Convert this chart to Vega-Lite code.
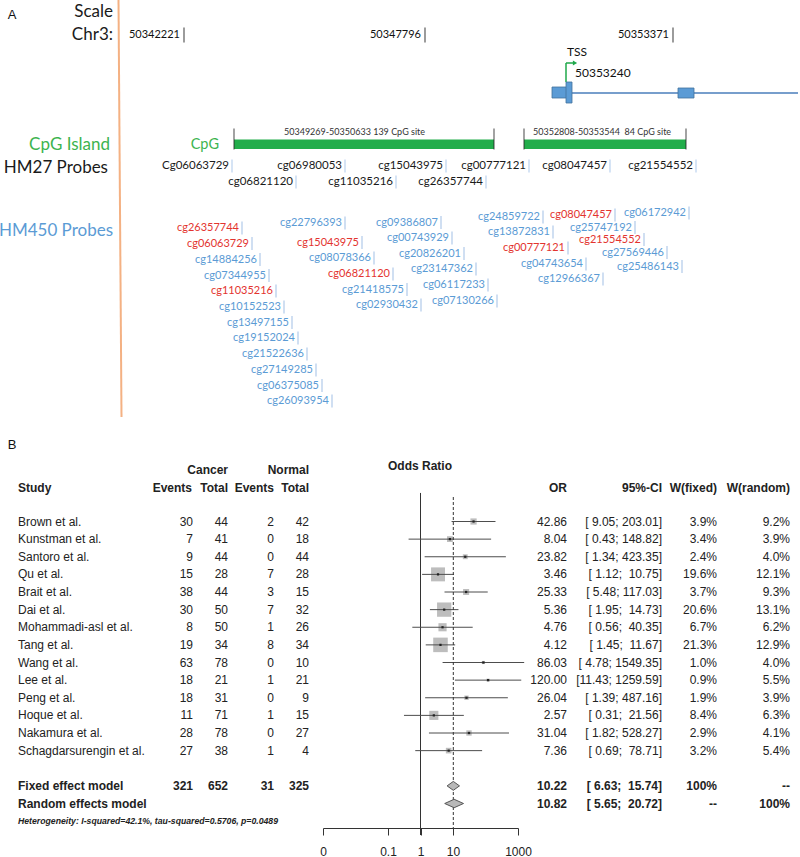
{
  "$schema": "https://vega.github.io/schema/vega-lite/v6.json",
  "width": 800,
  "height": 857,
  "autosize": {"type": "none"},
  "padding": 0,
  "background": "white",
  "config": {"view": {"stroke": null}},
  "datasets": {
    "trackLabels": [
      {"label": "Scale", "kind": "label", "pos": 113, "y": 12},
      {"label": "Chr3:", "kind": "label", "pos": 113, "y": 35},
      {"label": "CpG Island", "kind": "CpG", "pos": 110, "y": 145},
      {"label": "HM27 Probes", "kind": "label", "pos": 108, "y": 168},
      {"label": "HM450 Probes", "kind": "HM450", "pos": 113, "y": 231}
    ],
    "scaleTicks": [
      {"coord": "50342221", "pos": 184},
      {"coord": "50347796", "pos": 425},
      {"coord": "50353371", "pos": 673}
    ],
    "tss": [{"label": "TSS", "coord": "50353240", "pos": 566}],
    "gene": [{"feature": "gene body", "start": 552, "end": 798}],
    "exons": [
      {"part": "exon 1", "start": 552, "end": 567, "top": 87, "bottom": 98},
      {"part": "exon 1 (TSS)", "start": 566, "end": 572, "top": 82, "bottom": 103},
      {"part": "exon 2", "start": 678, "end": 694, "top": 88, "bottom": 98}
    ],
    "cpgIslands": [
      {"label": "50349269-50350633 139 CpG site", "start": 234, "end": 494, "label_pos": 284},
      {"label": "50352808-50353544\u00a0\u00a084 CpG site", "start": 524, "end": 686, "label_pos": 533}
    ],
    "hm27": [
      {"probe": "Cg06063729", "pos": 232, "y": 166},
      {"probe": "cg06980053", "pos": 345, "y": 166},
      {"probe": "cg15043975", "pos": 446, "y": 166},
      {"probe": "cg00777121", "pos": 529, "y": 166},
      {"probe": "cg08047457", "pos": 610, "y": 166},
      {"probe": "cg21554552", "pos": 696, "y": 166},
      {"probe": "cg06821120", "pos": 296, "y": 182},
      {"probe": "cg11035216", "pos": 396, "y": 182},
      {"probe": "cg26357744", "pos": 486, "y": 182}
    ],
    "hm450": [
      {"probe": "cg26357744", "kind": "HM27+HM450", "pos": 242, "y": 228},
      {"probe": "cg06063729", "kind": "HM27+HM450", "pos": 252, "y": 243.5},
      {"probe": "cg14884256", "kind": "HM450", "pos": 260, "y": 259.5},
      {"probe": "cg07344955", "kind": "HM450", "pos": 269, "y": 275.5},
      {"probe": "cg11035216", "kind": "HM27+HM450", "pos": 276, "y": 291},
      {"probe": "cg10152523", "kind": "HM450", "pos": 284, "y": 307},
      {"probe": "cg13497155", "kind": "HM450", "pos": 292, "y": 322.5},
      {"probe": "cg19152024", "kind": "HM450", "pos": 298, "y": 338},
      {"probe": "cg21522636", "kind": "HM450", "pos": 307, "y": 354},
      {"probe": "cg27149285", "kind": "HM450", "pos": 316, "y": 370},
      {"probe": "cg06375085", "kind": "HM450", "pos": 322, "y": 385.5},
      {"probe": "cg26093954", "kind": "HM450", "pos": 332, "y": 401},
      {"probe": "cg22796393", "kind": "HM450", "pos": 345, "y": 223},
      {"probe": "cg15043975", "kind": "HM27+HM450", "pos": 362, "y": 242.5},
      {"probe": "cg08078366", "kind": "HM450", "pos": 374, "y": 258},
      {"probe": "cg06821120", "kind": "HM27+HM450", "pos": 393, "y": 274},
      {"probe": "cg21418575", "kind": "HM450", "pos": 407, "y": 289.5},
      {"probe": "cg02930432", "kind": "HM450", "pos": 421, "y": 305},
      {"probe": "cg09386807", "kind": "HM450", "pos": 441, "y": 222.5},
      {"probe": "cg00743929", "kind": "HM450", "pos": 452, "y": 238},
      {"probe": "cg20826201", "kind": "HM450", "pos": 464, "y": 253.5},
      {"probe": "cg23147362", "kind": "HM450", "pos": 476, "y": 269},
      {"probe": "cg06117233", "kind": "HM450", "pos": 488, "y": 285},
      {"probe": "cg07130266", "kind": "HM450", "pos": 497, "y": 301},
      {"probe": "cg24859722", "kind": "HM450", "pos": 543, "y": 217},
      {"probe": "cg13872831", "kind": "HM450", "pos": 553, "y": 232},
      {"probe": "cg00777121", "kind": "HM27+HM450", "pos": 568, "y": 248},
      {"probe": "cg04743654", "kind": "HM450", "pos": 586, "y": 264},
      {"probe": "cg12966367", "kind": "HM450", "pos": 603, "y": 279},
      {"probe": "cg08047457", "kind": "HM27+HM450", "pos": 615, "y": 215},
      {"probe": "cg25747192", "kind": "HM450", "pos": 635, "y": 227.5},
      {"probe": "cg21554552", "kind": "HM27+HM450", "pos": 644, "y": 239.5},
      {"probe": "cg27569446", "kind": "HM450", "pos": 667, "y": 252.5},
      {"probe": "cg25486143", "kind": "HM450", "pos": 682, "y": 266.5},
      {"probe": "cg06172942", "kind": "HM450", "pos": 689, "y": 213}
    ],
    "studies": [
      {"row": 1, "study": "Brown et al.", "cancer_events": 30, "cancer_total": 44, "normal_events": 2, "normal_total": 42, "or": 42.86, "lo": 9.05, "hi": 203.01, "ci": "[\u00a09.05;\u00a0203.01]", "w_fixed": 0.039, "w_random": 0.092},
      {"row": 2, "study": "Kunstman et al.", "cancer_events": 7, "cancer_total": 41, "normal_events": 0, "normal_total": 18, "or": 8.04, "lo": 0.43, "hi": 148.82, "ci": "[\u00a00.43;\u00a0148.82]", "w_fixed": 0.034, "w_random": 0.039},
      {"row": 3, "study": "Santoro et al.", "cancer_events": 9, "cancer_total": 44, "normal_events": 0, "normal_total": 44, "or": 23.82, "lo": 1.34, "hi": 423.35, "ci": "[\u00a01.34;\u00a0423.35]", "w_fixed": 0.024, "w_random": 0.040},
      {"row": 4, "study": "Qu et al.", "cancer_events": 15, "cancer_total": 28, "normal_events": 7, "normal_total": 28, "or": 3.46, "lo": 1.12, "hi": 10.75, "ci": "[\u00a01.12;\u00a0\u00a010.75]", "w_fixed": 0.196, "w_random": 0.121},
      {"row": 5, "study": "Brait et al.", "cancer_events": 38, "cancer_total": 44, "normal_events": 3, "normal_total": 15, "or": 25.33, "lo": 5.48, "hi": 117.03, "ci": "[\u00a05.48;\u00a0117.03]", "w_fixed": 0.037, "w_random": 0.093},
      {"row": 6, "study": "Dai et al.", "cancer_events": 30, "cancer_total": 50, "normal_events": 7, "normal_total": 32, "or": 5.36, "lo": 1.95, "hi": 14.73, "ci": "[\u00a01.95;\u00a0\u00a014.73]", "w_fixed": 0.206, "w_random": 0.131},
      {"row": 7, "study": "Mohammadi-asl et al.", "cancer_events": 8, "cancer_total": 50, "normal_events": 1, "normal_total": 26, "or": 4.76, "lo": 0.56, "hi": 40.35, "ci": "[\u00a00.56;\u00a0\u00a040.35]", "w_fixed": 0.067, "w_random": 0.062},
      {"row": 8, "study": "Tang et al.", "cancer_events": 19, "cancer_total": 34, "normal_events": 8, "normal_total": 34, "or": 4.12, "lo": 1.45, "hi": 11.67, "ci": "[\u00a01.45;\u00a0\u00a011.67]", "w_fixed": 0.213, "w_random": 0.129},
      {"row": 9, "study": "Wang et al.", "cancer_events": 63, "cancer_total": 78, "normal_events": 0, "normal_total": 10, "or": 86.03, "lo": 4.78, "hi": 1549.35, "ci": "[\u00a04.78;\u00a01549.35]", "w_fixed": 0.010, "w_random": 0.040},
      {"row": 10, "study": "Lee et al.", "cancer_events": 18, "cancer_total": 21, "normal_events": 1, "normal_total": 21, "or": 120.00, "lo": 11.43, "hi": 1259.59, "ci": "[11.43;\u00a01259.59]", "w_fixed": 0.009, "w_random": 0.055},
      {"row": 11, "study": "Peng et al.", "cancer_events": 18, "cancer_total": 31, "normal_events": 0, "normal_total": 9, "or": 26.04, "lo": 1.39, "hi": 487.16, "ci": "[\u00a01.39;\u00a0487.16]", "w_fixed": 0.019, "w_random": 0.039},
      {"row": 12, "study": "Hoque et al.", "cancer_events": 11, "cancer_total": 71, "normal_events": 1, "normal_total": 15, "or": 2.57, "lo": 0.31, "hi": 21.56, "ci": "[\u00a00.31;\u00a0\u00a021.56]", "w_fixed": 0.084, "w_random": 0.063},
      {"row": 13, "study": "Nakamura et al.", "cancer_events": 28, "cancer_total": 78, "normal_events": 0, "normal_total": 27, "or": 31.04, "lo": 1.82, "hi": 528.27, "ci": "[\u00a01.82;\u00a0528.27]", "w_fixed": 0.029, "w_random": 0.041},
      {"row": 14, "study": "Schagdarsurengin et al.", "cancer_events": 27, "cancer_total": 38, "normal_events": 1, "normal_total": 4, "or": 7.36, "lo": 0.69, "hi": 78.71, "ci": "[\u00a00.69;\u00a0\u00a078.71]", "w_fixed": 0.032, "w_random": 0.054}
    ],
    "summary": [
      {"row": 16, "model": "Fixed effect model", "cancer_events": 321, "cancer_total": 652, "normal_events": 31, "normal_total": 325, "or": 10.22, "lo": 6.63, "hi": 15.74, "ci": "[\u00a06.63;\u00a0\u00a015.74]", "w_fixed": "100%", "w_random": "--"},
      {"row": 17, "model": "Random effects model", "or": 10.82, "lo": 5.65, "hi": 20.72, "ci": "[\u00a05.65;\u00a0\u00a020.72]", "w_fixed": "--", "w_random": "100%"}
    ]
  },
  "layer": [
    {
      "layer": [
        {
          "data": {"values": [{"divider": "track labels"}]},
          "mark": {"type": "rule", "color": "#f4b183", "strokeWidth": 2},
          "encoding": {
            "x": {"datum": 118.5, "type": "quantitative", "scale": {"domain": [0, 800], "range": [0, 800], "nice": false, "zero": false}, "axis": null},
            "x2": {"datum": 121.5},
            "y": {"datum": 0, "type": "quantitative", "scale": {"domain": [0, 857], "range": [0, 857], "nice": false, "zero": false}, "axis": null},
            "y2": {"datum": 417}
          }
        },
        {
          "data": {"values": [{"panel": "A"}]},
          "mark": {"type": "text", "font": "Liberation Sans", "fontSize": 13, "align": "center", "baseline": "middle", "color": "#111"},
          "encoding": {
            "x": {"datum": 12, "type": "quantitative", "scale": {"domain": [0, 800], "range": [0, 800], "nice": false, "zero": false}, "axis": null},
            "y": {"datum": 15, "type": "quantitative", "scale": {"domain": [0, 857], "range": [0, 857], "nice": false, "zero": false}, "axis": null},
            "text": {"field": "panel"}
          }
        },
        {
          "data": {"name": "trackLabels"},
          "mark": {"type": "text", "font": "Lato", "fontSize": 17, "align": "right", "baseline": "middle"},
          "encoding": {
            "x": {"field": "pos", "type": "quantitative", "scale": {"domain": [0, 800], "range": [0, 800], "nice": false, "zero": false}, "axis": null},
            "y": {"field": "y", "type": "quantitative", "scale": {"domain": [0, 857], "range": [0, 857], "nice": false, "zero": false}, "axis": null},
            "text": {"field": "label"},
            "color": {"field": "kind", "type": "nominal", "scale": {"domain": ["label", "CpG", "HM450", "HM27+HM450"], "range": ["#1a1a1a", "#3cb44f", "#5b9bd5", "#e3342f"]}, "legend": null}
          }
        },
        {
          "data": {"name": "scaleTicks"},
          "mark": {"type": "text", "font": "Lato", "fontSize": 11, "align": "right", "baseline": "middle", "dx": -4, "color": "#111"},
          "encoding": {
            "x": {"field": "pos", "type": "quantitative", "scale": {"domain": [0, 800], "range": [0, 800], "nice": false, "zero": false}, "axis": null},
            "y": {"datum": 35, "type": "quantitative", "scale": {"domain": [0, 857], "range": [0, 857], "nice": false, "zero": false}, "axis": null},
            "text": {"field": "coord"}
          }
        },
        {
          "data": {"name": "scaleTicks"},
          "mark": {"type": "tick", "orient": "vertical", "size": 15, "thickness": 1.2, "color": "#111"},
          "encoding": {
            "x": {"field": "pos", "type": "quantitative", "scale": {"domain": [0, 800], "range": [0, 800], "nice": false, "zero": false}, "axis": null},
            "y": {"datum": 35, "type": "quantitative", "scale": {"domain": [0, 857], "range": [0, 857], "nice": false, "zero": false}, "axis": null}
          }
        },
        {
          "data": {"name": "tss"},
          "mark": {"type": "rule", "color": "#1fa84a", "strokeWidth": 1.5},
          "encoding": {
            "x": {"field": "pos", "type": "quantitative", "scale": {"domain": [0, 800], "range": [0, 800], "nice": false, "zero": false}, "axis": null},
            "y": {"datum": 82, "type": "quantitative", "scale": {"domain": [0, 857], "range": [0, 857], "nice": false, "zero": false}, "axis": null},
            "y2": {"datum": 63}
          }
        },
        {
          "data": {"name": "tss"},
          "mark": {"type": "rule", "color": "#1fa84a", "strokeWidth": 1.5},
          "encoding": {
            "x": {"field": "pos", "type": "quantitative", "scale": {"domain": [0, 800], "range": [0, 800], "nice": false, "zero": false}, "axis": null},
            "x2": {"datum": 573},
            "y": {"datum": 63, "type": "quantitative", "scale": {"domain": [0, 857], "range": [0, 857], "nice": false, "zero": false}, "axis": null}
          }
        },
        {
          "data": {"name": "tss"},
          "mark": {"type": "point", "shape": "triangle-right", "filled": true, "size": 24, "color": "#1fa84a", "opacity": 1},
          "encoding": {
            "x": {"datum": 575, "type": "quantitative", "scale": {"domain": [0, 800], "range": [0, 800], "nice": false, "zero": false}, "axis": null},
            "y": {"datum": 63, "type": "quantitative", "scale": {"domain": [0, 857], "range": [0, 857], "nice": false, "zero": false}, "axis": null}
          }
        },
        {
          "data": {"name": "tss"},
          "mark": {"type": "text", "font": "Lato", "fontSize": 12, "align": "left", "baseline": "middle", "dx": 1, "color": "#111"},
          "encoding": {
            "x": {"field": "pos", "type": "quantitative", "scale": {"domain": [0, 800], "range": [0, 800], "nice": false, "zero": false}, "axis": null},
            "y": {"datum": 52, "type": "quantitative", "scale": {"domain": [0, 857], "range": [0, 857], "nice": false, "zero": false}, "axis": null},
            "text": {"field": "label"}
          }
        },
        {
          "data": {"name": "tss"},
          "mark": {"type": "text", "font": "Lato", "fontSize": 12, "align": "left", "baseline": "middle", "dx": 9, "color": "#111"},
          "encoding": {
            "x": {"field": "pos", "type": "quantitative", "scale": {"domain": [0, 800], "range": [0, 800], "nice": false, "zero": false}, "axis": null},
            "y": {"datum": 73, "type": "quantitative", "scale": {"domain": [0, 857], "range": [0, 857], "nice": false, "zero": false}, "axis": null},
            "text": {"field": "coord"}
          }
        },
        {
          "data": {"name": "gene"},
          "mark": {"type": "rule", "color": "#4a7ebb", "strokeWidth": 1.5},
          "encoding": {
            "x": {"field": "start", "type": "quantitative", "scale": {"domain": [0, 800], "range": [0, 800], "nice": false, "zero": false}, "axis": null},
            "x2": {"field": "end"},
            "y": {"datum": 93, "type": "quantitative", "scale": {"domain": [0, 857], "range": [0, 857], "nice": false, "zero": false}, "axis": null}
          }
        },
        {
          "data": {"name": "exons"},
          "mark": {"type": "rect", "fill": "#5b9bd5", "stroke": "#41719c", "strokeWidth": 0.8},
          "encoding": {
            "x": {"field": "start", "type": "quantitative", "scale": {"domain": [0, 800], "range": [0, 800], "nice": false, "zero": false}, "axis": null},
            "x2": {"field": "end"},
            "y": {"field": "top", "type": "quantitative", "scale": {"domain": [0, 857], "range": [0, 857], "nice": false, "zero": false}, "axis": null},
            "y2": {"field": "bottom"}
          }
        },
        {
          "data": {"name": "cpgIslands"},
          "mark": {"type": "rect", "fill": "#22ad4b"},
          "encoding": {
            "x": {"field": "start", "type": "quantitative", "scale": {"domain": [0, 800], "range": [0, 800], "nice": false, "zero": false}, "axis": null},
            "x2": {"field": "end"},
            "y": {"datum": 139.5, "type": "quantitative", "scale": {"domain": [0, 857], "range": [0, 857], "nice": false, "zero": false}, "axis": null},
            "y2": {"datum": 149}
          }
        },
        {
          "data": {"name": "cpgIslands"},
          "transform": [{"fold": ["start", "end"], "as": ["edge", "edge_pos"]}],
          "mark": {"type": "tick", "orient": "vertical", "size": 21, "thickness": 1.2, "color": "#222"},
          "encoding": {
            "x": {"field": "edge_pos", "type": "quantitative", "scale": {"domain": [0, 800], "range": [0, 800], "nice": false, "zero": false}, "axis": null},
            "y": {"datum": 139, "type": "quantitative", "scale": {"domain": [0, 857], "range": [0, 857], "nice": false, "zero": false}, "axis": null}
          }
        },
        {
          "data": {"name": "cpgIslands"},
          "mark": {"type": "text", "font": "Lato", "fontSize": 9, "align": "left", "baseline": "middle", "color": "#333"},
          "encoding": {
            "x": {"field": "label_pos", "type": "quantitative", "scale": {"domain": [0, 800], "range": [0, 800], "nice": false, "zero": false}, "axis": null},
            "y": {"datum": 132, "type": "quantitative", "scale": {"domain": [0, 857], "range": [0, 857], "nice": false, "zero": false}, "axis": null},
            "text": {"field": "label"}
          }
        },
        {
          "data": {"values": [{"label": "CpG"}]},
          "mark": {"type": "text", "font": "Lato", "fontSize": 14.5, "align": "right", "baseline": "middle", "color": "#3cb44f"},
          "encoding": {
            "x": {"datum": 219, "type": "quantitative", "scale": {"domain": [0, 800], "range": [0, 800], "nice": false, "zero": false}, "axis": null},
            "y": {"datum": 145, "type": "quantitative", "scale": {"domain": [0, 857], "range": [0, 857], "nice": false, "zero": false}, "axis": null},
            "text": {"field": "label"}
          }
        },
        {
          "data": {"name": "hm27"},
          "mark": {"type": "text", "font": "Lato", "fontSize": 11.5, "align": "right", "baseline": "middle", "dx": -3, "color": "#1a1a1a"},
          "encoding": {
            "x": {"field": "pos", "type": "quantitative", "scale": {"domain": [0, 800], "range": [0, 800], "nice": false, "zero": false}, "axis": null},
            "y": {"field": "y", "type": "quantitative", "scale": {"domain": [0, 857], "range": [0, 857], "nice": false, "zero": false}, "axis": null},
            "text": {"field": "probe"}
          }
        },
        {
          "data": {"name": "hm27"},
          "mark": {"type": "tick", "orient": "vertical", "size": 13, "thickness": 1, "color": "#8db4e2"},
          "encoding": {
            "x": {"field": "pos", "type": "quantitative", "scale": {"domain": [0, 800], "range": [0, 800], "nice": false, "zero": false}, "axis": null},
            "y": {"field": "y", "type": "quantitative", "scale": {"domain": [0, 857], "range": [0, 857], "nice": false, "zero": false}, "axis": null}
          }
        },
        {
          "data": {"name": "hm450"},
          "mark": {"type": "text", "font": "Lato", "fontSize": 11, "align": "right", "baseline": "middle", "dx": -3},
          "encoding": {
            "x": {"field": "pos", "type": "quantitative", "scale": {"domain": [0, 800], "range": [0, 800], "nice": false, "zero": false}, "axis": null},
            "y": {"field": "y", "type": "quantitative", "scale": {"domain": [0, 857], "range": [0, 857], "nice": false, "zero": false}, "axis": null},
            "text": {"field": "probe"},
            "color": {"field": "kind", "type": "nominal", "scale": {"domain": ["label", "CpG", "HM450", "HM27+HM450"], "range": ["#1a1a1a", "#3cb44f", "#5b9bd5", "#e3342f"]}, "legend": null}
          }
        },
        {
          "data": {"name": "hm450"},
          "mark": {"type": "tick", "orient": "vertical", "size": 13, "thickness": 1, "color": "#7aa7dc"},
          "encoding": {
            "x": {"field": "pos", "type": "quantitative", "scale": {"domain": [0, 800], "range": [0, 800], "nice": false, "zero": false}, "axis": null},
            "y": {"field": "y", "type": "quantitative", "scale": {"domain": [0, 857], "range": [0, 857], "nice": false, "zero": false}, "axis": null}
          }
        }
      ]
    },
    {
      "layer": [
        {
          "data": {"values": [{"h": "B"}]},
          "mark": {"type": "text", "font": "Liberation Sans", "fontSize": 13, "align": "center", "baseline": "middle", "color": "#111"},
          "encoding": {
            "x": {"datum": 12, "type": "quantitative", "scale": {"domain": [0, 800], "range": [0, 800], "nice": false, "zero": false}, "axis": null},
            "y": {"datum": -3.34, "type": "quantitative", "scale": {"domain": [1, 17], "range": [521.5, 803.5], "nice": false, "zero": false}, "axis": null},
            "text": {"field": "h"}
          }
        },
        {
          "data": {"values": [{"h": "Study"}]},
          "mark": {"type": "text", "font": "Liberation Sans", "fontSize": 12, "fontWeight": "bold", "align": "left", "baseline": "middle", "color": "#222"},
          "encoding": {
            "x": {"datum": 18, "type": "quantitative", "scale": {"domain": [0, 800], "range": [0, 800], "nice": false, "zero": false}, "axis": null},
            "y": {"datum": -0.91, "type": "quantitative", "scale": {"domain": [1, 17], "range": [521.5, 803.5], "nice": false, "zero": false}, "axis": null},
            "text": {"field": "h"}
          }
        },
        {
          "data": {"values": [{"h": "Cancer"}]},
          "mark": {"type": "text", "font": "Liberation Sans", "fontSize": 12, "fontWeight": "bold", "align": "right", "baseline": "middle", "color": "#222"},
          "encoding": {
            "x": {"datum": 228, "type": "quantitative", "scale": {"domain": [0, 800], "range": [0, 800], "nice": false, "zero": false}, "axis": null},
            "y": {"datum": -1.92, "type": "quantitative", "scale": {"domain": [1, 17], "range": [521.5, 803.5], "nice": false, "zero": false}, "axis": null},
            "text": {"field": "h"}
          }
        },
        {
          "data": {"values": [{"h": "Normal"}]},
          "mark": {"type": "text", "font": "Liberation Sans", "fontSize": 12, "fontWeight": "bold", "align": "right", "baseline": "middle", "color": "#222"},
          "encoding": {
            "x": {"datum": 309, "type": "quantitative", "scale": {"domain": [0, 800], "range": [0, 800], "nice": false, "zero": false}, "axis": null},
            "y": {"datum": -1.92, "type": "quantitative", "scale": {"domain": [1, 17], "range": [521.5, 803.5], "nice": false, "zero": false}, "axis": null},
            "text": {"field": "h"}
          }
        },
        {
          "data": {"values": [{"h": "Events"}]},
          "mark": {"type": "text", "font": "Liberation Sans", "fontSize": 12, "fontWeight": "bold", "align": "right", "baseline": "middle", "color": "#222"},
          "encoding": {
            "x": {"datum": 192, "type": "quantitative", "scale": {"domain": [0, 800], "range": [0, 800], "nice": false, "zero": false}, "axis": null},
            "y": {"datum": -0.91, "type": "quantitative", "scale": {"domain": [1, 17], "range": [521.5, 803.5], "nice": false, "zero": false}, "axis": null},
            "text": {"field": "h"}
          }
        },
        {
          "data": {"values": [{"h": "Total"}]},
          "mark": {"type": "text", "font": "Liberation Sans", "fontSize": 12, "fontWeight": "bold", "align": "right", "baseline": "middle", "color": "#222"},
          "encoding": {
            "x": {"datum": 228, "type": "quantitative", "scale": {"domain": [0, 800], "range": [0, 800], "nice": false, "zero": false}, "axis": null},
            "y": {"datum": -0.91, "type": "quantitative", "scale": {"domain": [1, 17], "range": [521.5, 803.5], "nice": false, "zero": false}, "axis": null},
            "text": {"field": "h"}
          }
        },
        {
          "data": {"values": [{"h": "Events"}]},
          "mark": {"type": "text", "font": "Liberation Sans", "fontSize": 12, "fontWeight": "bold", "align": "right", "baseline": "middle", "color": "#222"},
          "encoding": {
            "x": {"datum": 274, "type": "quantitative", "scale": {"domain": [0, 800], "range": [0, 800], "nice": false, "zero": false}, "axis": null},
            "y": {"datum": -0.91, "type": "quantitative", "scale": {"domain": [1, 17], "range": [521.5, 803.5], "nice": false, "zero": false}, "axis": null},
            "text": {"field": "h"}
          }
        },
        {
          "data": {"values": [{"h": "Total"}]},
          "mark": {"type": "text", "font": "Liberation Sans", "fontSize": 12, "fontWeight": "bold", "align": "right", "baseline": "middle", "color": "#222"},
          "encoding": {
            "x": {"datum": 309, "type": "quantitative", "scale": {"domain": [0, 800], "range": [0, 800], "nice": false, "zero": false}, "axis": null},
            "y": {"datum": -0.91, "type": "quantitative", "scale": {"domain": [1, 17], "range": [521.5, 803.5], "nice": false, "zero": false}, "axis": null},
            "text": {"field": "h"}
          }
        },
        {
          "data": {"values": [{"h": "Odds Ratio"}]},
          "mark": {"type": "text", "font": "Liberation Sans", "fontSize": 12, "fontWeight": "bold", "align": "center", "baseline": "middle", "color": "#222"},
          "encoding": {
            "x": {"datum": 420, "type": "quantitative", "scale": {"domain": [0, 800], "range": [0, 800], "nice": false, "zero": false}, "axis": null},
            "y": {"datum": -2.15, "type": "quantitative", "scale": {"domain": [1, 17], "range": [521.5, 803.5], "nice": false, "zero": false}, "axis": null},
            "text": {"field": "h"}
          }
        },
        {
          "data": {"values": [{"h": "OR"}]},
          "mark": {"type": "text", "font": "Liberation Sans", "fontSize": 12, "fontWeight": "bold", "align": "right", "baseline": "middle", "color": "#222"},
          "encoding": {
            "x": {"datum": 567, "type": "quantitative", "scale": {"domain": [0, 800], "range": [0, 800], "nice": false, "zero": false}, "axis": null},
            "y": {"datum": -0.91, "type": "quantitative", "scale": {"domain": [1, 17], "range": [521.5, 803.5], "nice": false, "zero": false}, "axis": null},
            "text": {"field": "h"}
          }
        },
        {
          "data": {"values": [{"h": "95%-CI"}]},
          "mark": {"type": "text", "font": "Liberation Sans", "fontSize": 12, "fontWeight": "bold", "align": "right", "baseline": "middle", "color": "#222"},
          "encoding": {
            "x": {"datum": 662, "type": "quantitative", "scale": {"domain": [0, 800], "range": [0, 800], "nice": false, "zero": false}, "axis": null},
            "y": {"datum": -0.91, "type": "quantitative", "scale": {"domain": [1, 17], "range": [521.5, 803.5], "nice": false, "zero": false}, "axis": null},
            "text": {"field": "h"}
          }
        },
        {
          "data": {"values": [{"h": "W(fixed)"}]},
          "mark": {"type": "text", "font": "Liberation Sans", "fontSize": 12, "fontWeight": "bold", "align": "right", "baseline": "middle", "color": "#222"},
          "encoding": {
            "x": {"datum": 717, "type": "quantitative", "scale": {"domain": [0, 800], "range": [0, 800], "nice": false, "zero": false}, "axis": null},
            "y": {"datum": -0.91, "type": "quantitative", "scale": {"domain": [1, 17], "range": [521.5, 803.5], "nice": false, "zero": false}, "axis": null},
            "text": {"field": "h"}
          }
        },
        {
          "data": {"values": [{"h": "W(random)"}]},
          "mark": {"type": "text", "font": "Liberation Sans", "fontSize": 12, "fontWeight": "bold", "align": "right", "baseline": "middle", "color": "#222"},
          "encoding": {
            "x": {"datum": 790, "type": "quantitative", "scale": {"domain": [0, 800], "range": [0, 800], "nice": false, "zero": false}, "axis": null},
            "y": {"datum": -0.91, "type": "quantitative", "scale": {"domain": [1, 17], "range": [521.5, 803.5], "nice": false, "zero": false}, "axis": null},
            "text": {"field": "h"}
          }
        },
        {
          "data": {"name": "studies"},
          "mark": {"type": "text", "font": "Liberation Sans", "fontSize": 12, "align": "left", "baseline": "middle", "color": "#222"},
          "encoding": {
            "x": {"datum": 18, "type": "quantitative", "scale": {"domain": [0, 800], "range": [0, 800], "nice": false, "zero": false}, "axis": null},
            "y": {"field": "row", "type": "quantitative", "scale": {"domain": [1, 17], "range": [521.5, 803.5], "nice": false, "zero": false}, "axis": null},
            "text": {"field": "study"}
          }
        },
        {
          "data": {"name": "studies"},
          "mark": {"type": "text", "font": "Liberation Sans", "fontSize": 12, "align": "right", "baseline": "middle", "color": "#222"},
          "encoding": {
            "x": {"datum": 193, "type": "quantitative", "scale": {"domain": [0, 800], "range": [0, 800], "nice": false, "zero": false}, "axis": null},
            "y": {"field": "row", "type": "quantitative", "scale": {"domain": [1, 17], "range": [521.5, 803.5], "nice": false, "zero": false}, "axis": null},
            "text": {"field": "cancer_events", "type": "quantitative"}
          }
        },
        {
          "data": {"name": "studies"},
          "mark": {"type": "text", "font": "Liberation Sans", "fontSize": 12, "align": "right", "baseline": "middle", "color": "#222"},
          "encoding": {
            "x": {"datum": 228, "type": "quantitative", "scale": {"domain": [0, 800], "range": [0, 800], "nice": false, "zero": false}, "axis": null},
            "y": {"field": "row", "type": "quantitative", "scale": {"domain": [1, 17], "range": [521.5, 803.5], "nice": false, "zero": false}, "axis": null},
            "text": {"field": "cancer_total", "type": "quantitative"}
          }
        },
        {
          "data": {"name": "studies"},
          "mark": {"type": "text", "font": "Liberation Sans", "fontSize": 12, "align": "right", "baseline": "middle", "color": "#222"},
          "encoding": {
            "x": {"datum": 274, "type": "quantitative", "scale": {"domain": [0, 800], "range": [0, 800], "nice": false, "zero": false}, "axis": null},
            "y": {"field": "row", "type": "quantitative", "scale": {"domain": [1, 17], "range": [521.5, 803.5], "nice": false, "zero": false}, "axis": null},
            "text": {"field": "normal_events", "type": "quantitative"}
          }
        },
        {
          "data": {"name": "studies"},
          "mark": {"type": "text", "font": "Liberation Sans", "fontSize": 12, "align": "right", "baseline": "middle", "color": "#222"},
          "encoding": {
            "x": {"datum": 309, "type": "quantitative", "scale": {"domain": [0, 800], "range": [0, 800], "nice": false, "zero": false}, "axis": null},
            "y": {"field": "row", "type": "quantitative", "scale": {"domain": [1, 17], "range": [521.5, 803.5], "nice": false, "zero": false}, "axis": null},
            "text": {"field": "normal_total", "type": "quantitative"}
          }
        },
        {
          "data": {"name": "studies"},
          "mark": {"type": "text", "font": "Liberation Sans", "fontSize": 12, "align": "right", "baseline": "middle", "color": "#222"},
          "encoding": {
            "x": {"datum": 567, "type": "quantitative", "scale": {"domain": [0, 800], "range": [0, 800], "nice": false, "zero": false}, "axis": null},
            "y": {"field": "row", "type": "quantitative", "scale": {"domain": [1, 17], "range": [521.5, 803.5], "nice": false, "zero": false}, "axis": null},
            "text": {"field": "or", "type": "quantitative", "format": ".2f"}
          }
        },
        {
          "data": {"name": "studies"},
          "mark": {"type": "text", "font": "Liberation Sans", "fontSize": 12, "align": "right", "baseline": "middle", "color": "#222"},
          "encoding": {
            "x": {"datum": 662, "type": "quantitative", "scale": {"domain": [0, 800], "range": [0, 800], "nice": false, "zero": false}, "axis": null},
            "y": {"field": "row", "type": "quantitative", "scale": {"domain": [1, 17], "range": [521.5, 803.5], "nice": false, "zero": false}, "axis": null},
            "text": {"field": "ci"}
          }
        },
        {
          "data": {"name": "studies"},
          "mark": {"type": "text", "font": "Liberation Sans", "fontSize": 12, "align": "right", "baseline": "middle", "color": "#222"},
          "encoding": {
            "x": {"datum": 717, "type": "quantitative", "scale": {"domain": [0, 800], "range": [0, 800], "nice": false, "zero": false}, "axis": null},
            "y": {"field": "row", "type": "quantitative", "scale": {"domain": [1, 17], "range": [521.5, 803.5], "nice": false, "zero": false}, "axis": null},
            "text": {"field": "w_fixed", "type": "quantitative", "format": ".1%"}
          }
        },
        {
          "data": {"name": "studies"},
          "mark": {"type": "text", "font": "Liberation Sans", "fontSize": 12, "align": "right", "baseline": "middle", "color": "#222"},
          "encoding": {
            "x": {"datum": 790, "type": "quantitative", "scale": {"domain": [0, 800], "range": [0, 800], "nice": false, "zero": false}, "axis": null},
            "y": {"field": "row", "type": "quantitative", "scale": {"domain": [1, 17], "range": [521.5, 803.5], "nice": false, "zero": false}, "axis": null},
            "text": {"field": "w_random", "type": "quantitative", "format": ".1%"}
          }
        },
        {
          "data": {"name": "summary"},
          "mark": {"type": "text", "font": "Liberation Sans", "fontSize": 12, "fontWeight": "bold", "align": "left", "baseline": "middle", "color": "#222"},
          "encoding": {
            "x": {"datum": 18, "type": "quantitative", "scale": {"domain": [0, 800], "range": [0, 800], "nice": false, "zero": false}, "axis": null},
            "y": {"field": "row", "type": "quantitative", "scale": {"domain": [1, 17], "range": [521.5, 803.5], "nice": false, "zero": false}, "axis": null},
            "text": {"field": "model"}
          }
        },
        {
          "data": {"name": "summary"},
          "transform": [{"filter": "isValid(datum.cancer_events)"}],
          "mark": {"type": "text", "font": "Liberation Sans", "fontSize": 12, "fontWeight": "bold", "align": "right", "baseline": "middle", "color": "#222"},
          "encoding": {
            "x": {"datum": 193, "type": "quantitative", "scale": {"domain": [0, 800], "range": [0, 800], "nice": false, "zero": false}, "axis": null},
            "y": {"field": "row", "type": "quantitative", "scale": {"domain": [1, 17], "range": [521.5, 803.5], "nice": false, "zero": false}, "axis": null},
            "text": {"field": "cancer_events", "type": "quantitative"}
          }
        },
        {
          "data": {"name": "summary"},
          "transform": [{"filter": "isValid(datum.cancer_total)"}],
          "mark": {"type": "text", "font": "Liberation Sans", "fontSize": 12, "fontWeight": "bold", "align": "right", "baseline": "middle", "color": "#222"},
          "encoding": {
            "x": {"datum": 228, "type": "quantitative", "scale": {"domain": [0, 800], "range": [0, 800], "nice": false, "zero": false}, "axis": null},
            "y": {"field": "row", "type": "quantitative", "scale": {"domain": [1, 17], "range": [521.5, 803.5], "nice": false, "zero": false}, "axis": null},
            "text": {"field": "cancer_total", "type": "quantitative"}
          }
        },
        {
          "data": {"name": "summary"},
          "transform": [{"filter": "isValid(datum.normal_events)"}],
          "mark": {"type": "text", "font": "Liberation Sans", "fontSize": 12, "fontWeight": "bold", "align": "right", "baseline": "middle", "color": "#222"},
          "encoding": {
            "x": {"datum": 274, "type": "quantitative", "scale": {"domain": [0, 800], "range": [0, 800], "nice": false, "zero": false}, "axis": null},
            "y": {"field": "row", "type": "quantitative", "scale": {"domain": [1, 17], "range": [521.5, 803.5], "nice": false, "zero": false}, "axis": null},
            "text": {"field": "normal_events", "type": "quantitative"}
          }
        },
        {
          "data": {"name": "summary"},
          "transform": [{"filter": "isValid(datum.normal_total)"}],
          "mark": {"type": "text", "font": "Liberation Sans", "fontSize": 12, "fontWeight": "bold", "align": "right", "baseline": "middle", "color": "#222"},
          "encoding": {
            "x": {"datum": 309, "type": "quantitative", "scale": {"domain": [0, 800], "range": [0, 800], "nice": false, "zero": false}, "axis": null},
            "y": {"field": "row", "type": "quantitative", "scale": {"domain": [1, 17], "range": [521.5, 803.5], "nice": false, "zero": false}, "axis": null},
            "text": {"field": "normal_total", "type": "quantitative"}
          }
        },
        {
          "data": {"name": "summary"},
          "mark": {"type": "text", "font": "Liberation Sans", "fontSize": 12, "fontWeight": "bold", "align": "right", "baseline": "middle", "color": "#222"},
          "encoding": {
            "x": {"datum": 567, "type": "quantitative", "scale": {"domain": [0, 800], "range": [0, 800], "nice": false, "zero": false}, "axis": null},
            "y": {"field": "row", "type": "quantitative", "scale": {"domain": [1, 17], "range": [521.5, 803.5], "nice": false, "zero": false}, "axis": null},
            "text": {"field": "or", "type": "quantitative", "format": ".2f"}
          }
        },
        {
          "data": {"name": "summary"},
          "mark": {"type": "text", "font": "Liberation Sans", "fontSize": 12, "fontWeight": "bold", "align": "right", "baseline": "middle", "color": "#222"},
          "encoding": {
            "x": {"datum": 662, "type": "quantitative", "scale": {"domain": [0, 800], "range": [0, 800], "nice": false, "zero": false}, "axis": null},
            "y": {"field": "row", "type": "quantitative", "scale": {"domain": [1, 17], "range": [521.5, 803.5], "nice": false, "zero": false}, "axis": null},
            "text": {"field": "ci"}
          }
        },
        {
          "data": {"name": "summary"},
          "mark": {"type": "text", "font": "Liberation Sans", "fontSize": 12, "fontWeight": "bold", "align": "right", "baseline": "middle", "color": "#222"},
          "encoding": {
            "x": {"datum": 717, "type": "quantitative", "scale": {"domain": [0, 800], "range": [0, 800], "nice": false, "zero": false}, "axis": null},
            "y": {"field": "row", "type": "quantitative", "scale": {"domain": [1, 17], "range": [521.5, 803.5], "nice": false, "zero": false}, "axis": null},
            "text": {"field": "w_fixed"}
          }
        },
        {
          "data": {"name": "summary"},
          "mark": {"type": "text", "font": "Liberation Sans", "fontSize": 12, "fontWeight": "bold", "align": "right", "baseline": "middle", "color": "#222"},
          "encoding": {
            "x": {"datum": 790, "type": "quantitative", "scale": {"domain": [0, 800], "range": [0, 800], "nice": false, "zero": false}, "axis": null},
            "y": {"field": "row", "type": "quantitative", "scale": {"domain": [1, 17], "range": [521.5, 803.5], "nice": false, "zero": false}, "axis": null},
            "text": {"field": "w_random"}
          }
        },
        {
          "data": {"values": [{"h": "Heterogeneity: I-squared=42.1%, tau-squared=0.5706, p=0.0489"}]},
          "mark": {"type": "text", "font": "Liberation Sans", "fontSize": 8.7, "fontWeight": "bold", "fontStyle": "italic", "align": "left", "baseline": "middle", "color": "#222"},
          "encoding": {
            "x": {"datum": 18, "type": "quantitative", "scale": {"domain": [0, 800], "range": [0, 800], "nice": false, "zero": false}, "axis": null},
            "y": {"datum": 18.02, "type": "quantitative", "scale": {"domain": [1, 17], "range": [521.5, 803.5], "nice": false, "zero": false}, "axis": null},
            "text": {"field": "h"}
          }
        }
      ]
    },
    {
      "layer": [
        {
          "data": {"values": [{"reference": "OR = 1"}]},
          "mark": {"type": "rule", "color": "#333", "strokeWidth": 1},
          "encoding": {
            "x": {"datum": 1, "type": "quantitative", "scale": {"type": "log", "domain": [0.001, 1000], "range": [323, 518], "nice": false},
              "axis": {"orient": "bottom", "offset": -29, "values": [0.001, 0.1, 1, 10, 1000], "format": "~g", "labelExpr": "datum.value < 0.01 ? '0' : datum.label", "title": null, "grid": false, "domainColor": "#333", "domainWidth": 1, "tickColor": "#333", "tickSize": 7, "tickWidth": 1, "labelPadding": 11, "labelFont": "Liberation Sans", "labelFontSize": 12, "labelColor": "#222", "labelFlush": false, "labelOverlap": false, "labelBound": false}},
            "y": {"datum": -0.62, "type": "quantitative", "scale": {"domain": [1, 17], "range": [521.5, 803.5], "nice": false, "zero": false}, "axis": null},
            "y2": {"datum": 18.79}
          }
        },
        {
          "data": {"name": "studies"},
          "mark": {"type": "point", "shape": "square", "filled": true, "color": "#bdbdbd", "opacity": 1},
          "encoding": {
            "x": {"field": "or", "type": "quantitative", "scale": {"type": "log", "domain": [0.001, 1000], "range": [323, 518], "nice": false},
              "axis": {"orient": "bottom", "offset": -29, "values": [0.001, 0.1, 1, 10, 1000], "format": "~g", "labelExpr": "datum.value < 0.01 ? '0' : datum.label", "title": null, "grid": false, "domainColor": "#333", "domainWidth": 1, "tickColor": "#333", "tickSize": 7, "tickWidth": 1, "labelPadding": 11, "labelFont": "Liberation Sans", "labelFontSize": 12, "labelColor": "#222", "labelFlush": false, "labelOverlap": false, "labelBound": false}},
            "y": {"field": "row", "type": "quantitative", "scale": {"domain": [1, 17], "range": [521.5, 803.5], "nice": false, "zero": false}, "axis": null},
            "size": {"field": "w_fixed", "type": "quantitative", "scale": {"domain": [0, 0.25], "range": [0, 248]}, "legend": null}
          }
        },
        {
          "data": {"name": "studies"},
          "mark": {"type": "rule", "color": "#4d4d4d", "strokeWidth": 1},
          "encoding": {
            "x": {"field": "lo", "type": "quantitative", "scale": {"type": "log", "domain": [0.001, 1000], "range": [323, 518], "nice": false},
              "axis": {"orient": "bottom", "offset": -29, "values": [0.001, 0.1, 1, 10, 1000], "format": "~g", "labelExpr": "datum.value < 0.01 ? '0' : datum.label", "title": null, "grid": false, "domainColor": "#333", "domainWidth": 1, "tickColor": "#333", "tickSize": 7, "tickWidth": 1, "labelPadding": 11, "labelFont": "Liberation Sans", "labelFontSize": 12, "labelColor": "#222", "labelFlush": false, "labelOverlap": false, "labelBound": false}},
            "x2": {"field": "hi"},
            "y": {"field": "row", "type": "quantitative", "scale": {"domain": [1, 17], "range": [521.5, 803.5], "nice": false, "zero": false}, "axis": null}
          }
        },
        {
          "data": {"name": "studies"},
          "mark": {"type": "point", "shape": "square", "filled": true, "size": 5, "color": "#222", "opacity": 1},
          "encoding": {
            "x": {"field": "or", "type": "quantitative", "scale": {"type": "log", "domain": [0.001, 1000], "range": [323, 518], "nice": false},
              "axis": {"orient": "bottom", "offset": -29, "values": [0.001, 0.1, 1, 10, 1000], "format": "~g", "labelExpr": "datum.value < 0.01 ? '0' : datum.label", "title": null, "grid": false, "domainColor": "#333", "domainWidth": 1, "tickColor": "#333", "tickSize": 7, "tickWidth": 1, "labelPadding": 11, "labelFont": "Liberation Sans", "labelFontSize": 12, "labelColor": "#222", "labelFlush": false, "labelOverlap": false, "labelBound": false}},
            "y": {"field": "row", "type": "quantitative", "scale": {"domain": [1, 17], "range": [521.5, 803.5], "nice": false, "zero": false}, "axis": null}
          }
        },
        {
          "data": {"name": "summary"},
          "transform": [{"filter": "datum.model == 'Fixed effect model'"}],
          "mark": {"type": "rule", "color": "#333", "strokeWidth": 1, "strokeDash": [3, 2]},
          "encoding": {
            "x": {"field": "or", "type": "quantitative", "scale": {"type": "log", "domain": [0.001, 1000], "range": [323, 518], "nice": false},
              "axis": {"orient": "bottom", "offset": -29, "values": [0.001, 0.1, 1, 10, 1000], "format": "~g", "labelExpr": "datum.value < 0.01 ? '0' : datum.label", "title": null, "grid": false, "domainColor": "#333", "domainWidth": 1, "tickColor": "#333", "tickSize": 7, "tickWidth": 1, "labelPadding": 11, "labelFont": "Liberation Sans", "labelFontSize": 12, "labelColor": "#222", "labelFlush": false, "labelOverlap": false, "labelBound": false}},
            "y": {"datum": -0.39, "type": "quantitative", "scale": {"domain": [1, 17], "range": [521.5, 803.5], "nice": false, "zero": false}, "axis": null},
            "y2": {"datum": 18.39}
          }
        },
        {
          "data": {"name": "summary"},
          "transform": [{"filter": "datum.model == 'Fixed effect model'"}],
          "mark": {"type": "point", "shape": "M-1,0L0,-0.72L1,0L0,0.72Z", "size": 154, "filled": true, "fill": "#b8b8b8", "stroke": "#555", "strokeWidth": 1, "opacity": 1},
          "encoding": {
            "x": {"field": "or", "type": "quantitative", "scale": {"type": "log", "domain": [0.001, 1000], "range": [323, 518], "nice": false},
              "axis": {"orient": "bottom", "offset": -29, "values": [0.001, 0.1, 1, 10, 1000], "format": "~g", "labelExpr": "datum.value < 0.01 ? '0' : datum.label", "title": null, "grid": false, "domainColor": "#333", "domainWidth": 1, "tickColor": "#333", "tickSize": 7, "tickWidth": 1, "labelPadding": 11, "labelFont": "Liberation Sans", "labelFontSize": 12, "labelColor": "#222", "labelFlush": false, "labelOverlap": false, "labelBound": false}},
            "y": {"field": "row", "type": "quantitative", "scale": {"domain": [1, 17], "range": [521.5, 803.5], "nice": false, "zero": false}, "axis": null}
          }
        },
        {
          "data": {"name": "summary"},
          "transform": [{"filter": "datum.model == 'Random effects model'"}],
          "mark": {"type": "point", "shape": "M-1,0L0,-0.45L1,0L0,0.45Z", "size": 353, "filled": true, "fill": "#b8b8b8", "stroke": "#555", "strokeWidth": 1, "opacity": 1},
          "encoding": {
            "x": {"field": "or", "type": "quantitative", "scale": {"type": "log", "domain": [0.001, 1000], "range": [323, 518], "nice": false},
              "axis": {"orient": "bottom", "offset": -29, "values": [0.001, 0.1, 1, 10, 1000], "format": "~g", "labelExpr": "datum.value < 0.01 ? '0' : datum.label", "title": null, "grid": false, "domainColor": "#333", "domainWidth": 1, "tickColor": "#333", "tickSize": 7, "tickWidth": 1, "labelPadding": 11, "labelFont": "Liberation Sans", "labelFontSize": 12, "labelColor": "#222", "labelFlush": false, "labelOverlap": false, "labelBound": false}},
            "y": {"field": "row", "type": "quantitative", "scale": {"domain": [1, 17], "range": [521.5, 803.5], "nice": false, "zero": false}, "axis": null}
          }
        }
      ]
    }
  ],
  "resolve": {"scale": {"x": "independent", "y": "independent", "color": "independent", "size": "independent"}}
}
